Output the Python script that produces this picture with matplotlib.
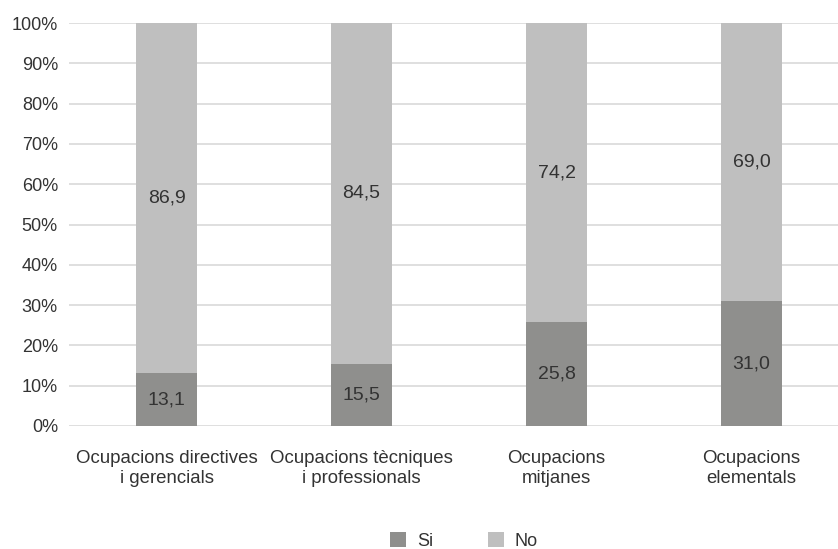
import numpy as np
import matplotlib
matplotlib.use('Agg')
import matplotlib.pyplot as plt

# dades
categories = ['Ocupacions directives\ni gerencials',
              'Ocupacions tècniques\ni professionals',
              'Ocupacions\nmitjanes',
              'Ocupacions\nelementals']
si_vals = [13.1, 15.5, 25.8, 31.0]
no_vals = [86.9, 84.5, 74.2, 69.0]
series_names = ['Si', 'No']

COL_SI = '#8f8f8d'
COL_NO = '#bfbfbf'
TXT = '#333333'
GRID = '#d9d9d9'

plt.rcParams['font.family'] = ['Liberation Sans', 'DejaVu Sans']

fig = plt.figure(figsize=(8.38, 5.49), dpi=100)
# l'eix continua més enllà del marge dret (retallat com a l'original)
ax = fig.add_axes([69 / 838, 1 - 426 / 549, 780 / 838, 403 / 549])

x = np.arange(len(categories))
w = 0.313
b1 = ax.bar(x, si_vals, w, color=COL_SI, label=series_names[0], zorder=3)
b2 = ax.bar(x, no_vals, w, bottom=si_vals, color=COL_NO, label=series_names[1], zorder=3)

for i in range(len(categories)):
    ax.text(x[i], si_vals[i] / 2, f"{si_vals[i]:.1f}".replace('.', ','),
            ha='center', va='center', fontsize=14, color=TXT, zorder=4)
    ax.text(x[i], si_vals[i] + no_vals[i] / 2, f"{no_vals[i]:.1f}".replace('.', ','),
            ha='center', va='center', fontsize=14, color=TXT, zorder=4)

ax.set_xlim(-0.5, len(categories) - 0.5)
ax.set_ylim(0, 100)
ax.set_yticks(np.arange(0, 101, 10))
ax.set_yticklabels([f"{v}%" for v in range(0, 101, 10)])
ax.set_xticks(x)
ax.set_xticklabels(categories, fontsize=13.4, linespacing=1.25)

ax.grid(axis='y', color=GRID, linewidth=1.2, zorder=0)
for s in ax.spines.values():
    s.set_visible(False)
ax.tick_params(axis='y', length=0, labelsize=13, labelcolor=TXT, pad=8)
ax.tick_params(axis='x', length=0, labelcolor=TXT, pad=17)

fig.legend(handles=[b1, b2], labels=series_names, loc='center',
           bbox_to_anchor=(464 / 838, 1 - 541 / 549), ncol=2, frameon=False,
           fontsize=13, handlelength=0.89, handleheight=0.89, columnspacing=3.0,
           handletextpad=0.6, labelcolor=TXT, borderpad=0, borderaxespad=0)

fig.savefig('out.png', dpi=100)
